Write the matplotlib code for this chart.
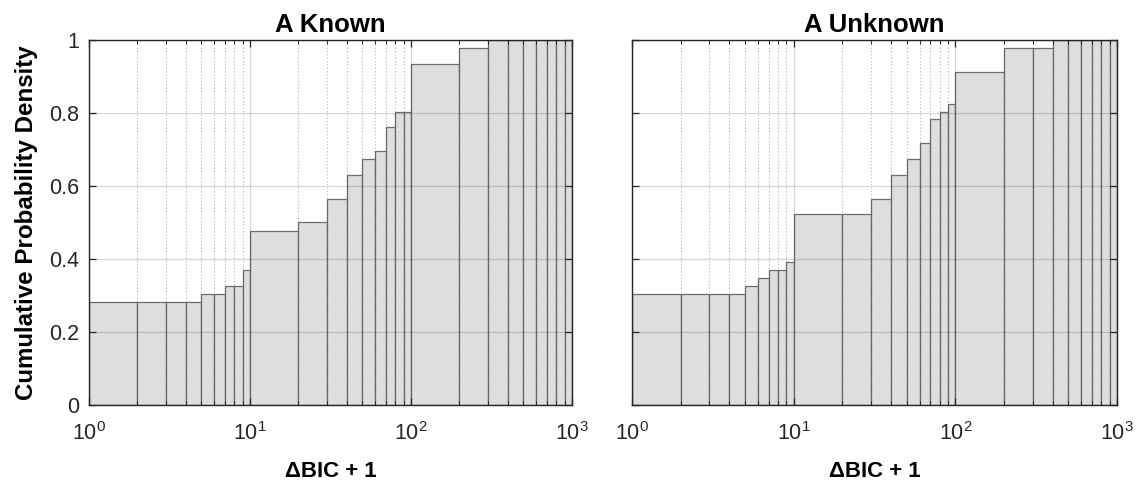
import numpy as np
import matplotlib
matplotlib.use('Agg')
import matplotlib.pyplot as plt
from matplotlib.ticker import FixedLocator, FixedFormatter, LogLocator, NullFormatter

plt.rcParams['font.family'] = ['Liberation Sans', 'DejaVu Sans']

# bin edges of the log histogram (Delta BIC + 1)
bin_edges = [1, 2, 3, 4, 5, 6, 7, 8, 9, 10,
             20, 30, 40, 50, 60, 70, 80, 90, 100,
             200, 300, 400, 500, 600, 700, 800, 900, 1000]

# cumulative values per bin
known_cdf = [0.283, 0.283, 0.283, 0.283, 0.304, 0.304, 0.326, 0.326, 0.370,
             0.478, 0.500, 0.565, 0.630, 0.674, 0.696, 0.761, 0.804, 0.804,
             0.935, 0.978, 1.0, 1.0, 1.0, 1.0, 1.0, 1.0, 1.0]
unknown_cdf = [0.304, 0.304, 0.304, 0.304, 0.326, 0.348, 0.370, 0.370, 0.391,
               0.522, 0.522, 0.565, 0.630, 0.674, 0.717, 0.783, 0.804, 0.826,
               0.913, 0.978, 0.978, 1.0, 1.0, 1.0, 1.0, 1.0, 1.0]

titles = ['A Known', 'A Unknown']
yticks = [0, 0.2, 0.4, 0.6, 0.8, 1.0]
ytick_labels = ['0', '0.2', '0.4', '0.6', '0.8', '1']

fig = plt.figure(figsize=(11.45, 4.86), dpi=100)
ax1 = fig.add_axes([0.0777, 0.1667, 0.4218, 0.751])
ax2 = fig.add_axes([0.552, 0.1667, 0.4236, 0.751])

left = np.array(bin_edges[:-1], dtype=float)
width = np.array(bin_edges[1:], dtype=float) - left

for ax, vals, title in zip([ax1, ax2], [known_cdf, unknown_cdf], titles):
    ax.bar(left, vals, width=width, align='edge', color='#dedede',
           edgecolor='#6e6e6e', linewidth=0.9, zorder=1)
    ax.set_xscale('log')
    ax.set_xlim(1, 1000)
    ax.set_ylim(0, 1)
    ax.xaxis.set_major_locator(LogLocator(base=10, numticks=10))
    ax.xaxis.set_minor_locator(LogLocator(base=10, subs=np.arange(2, 10), numticks=20))
    ax.xaxis.set_minor_formatter(NullFormatter())
    ax.yaxis.set_major_locator(FixedLocator(yticks))
    ax.set_axisbelow(False)
    ax.grid(True, which='major', color='#262626', alpha=0.18, linewidth=0.9, zorder=3)
    ax.grid(True, which='minor', axis='x', color='#262626', alpha=0.35,
            linestyle=(0, (1, 2)), linewidth=0.8, zorder=3)
    ax.tick_params(which='both', direction='in', top=True, right=True,
                   labelsize=15.5, colors='#262626')
    ax.tick_params(axis='x', which='major', pad=12)
    ax.tick_params(axis='y', which='major', pad=7)
    ax.tick_params(which='major', length=5, width=0.9)
    ax.tick_params(which='minor', length=3, width=0.7)
    ax.tick_params(axis='y', which='minor', left=False, right=False)
    for s in ax.spines.values():
        s.set_color('#262626')
        s.set_linewidth(1.0)
        s.set_zorder(5)
    ax.set_title(title, fontsize=18.5, fontweight='bold', pad=6)
    ax.set_xlabel('\u0394BIC + 1', fontsize=16, fontweight='bold', labelpad=12)

ax1.yaxis.set_major_formatter(FixedFormatter(ytick_labels))
ax1.set_ylabel('Cumulative Probability Density', fontsize=17.4, fontweight='bold', labelpad=8)
ax2.set_yticklabels([])

plt.savefig('out.png', dpi=100)
